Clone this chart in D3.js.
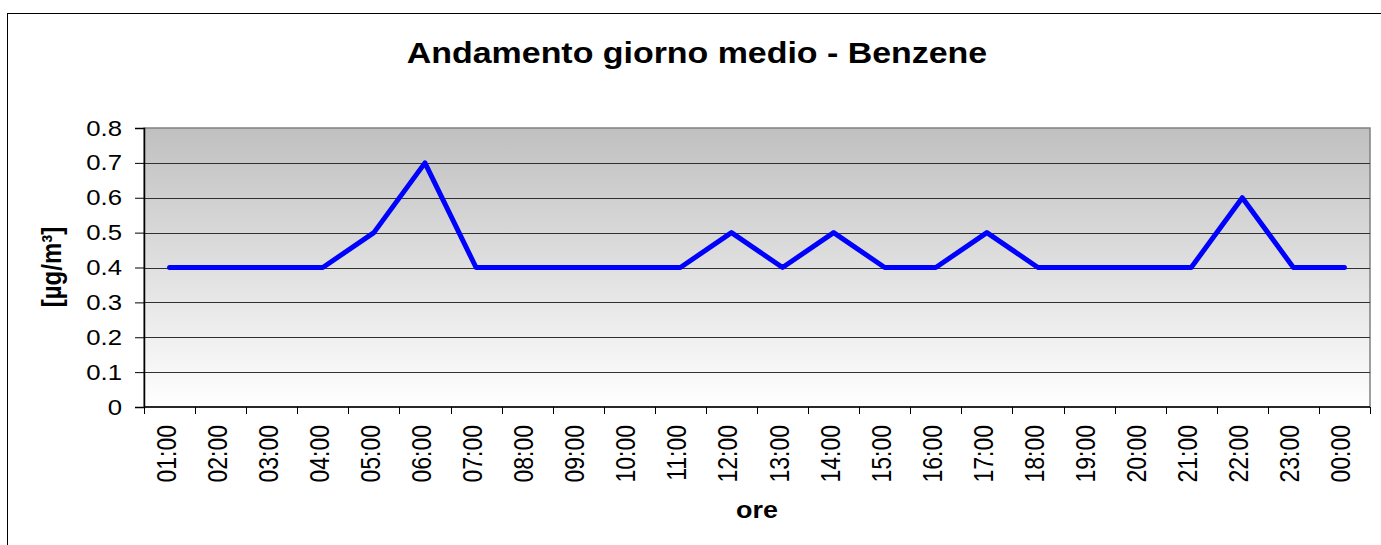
<!DOCTYPE html>
<html><head><meta charset="utf-8">
<script src="https://cdn.jsdelivr.net/npm/d3@7"></script>
<style>body{margin:0;background:#fff;} svg{display:block;font-family:"Liberation Sans",Arial,sans-serif;}</style>
</head><body>
<svg id="c" width="1381" height="545"></svg>
<script>
const hours = ["01:00","02:00","03:00","04:00","05:00","06:00","07:00","08:00","09:00","10:00","11:00","12:00","13:00","14:00","15:00","16:00","17:00","18:00","19:00","20:00","21:00","22:00","23:00","00:00"];
const benzene = [0.4,0.4,0.4,0.4,0.5,0.7,0.4,0.4,0.4,0.4,0.4,0.5,0.4,0.5,0.4,0.4,0.5,0.4,0.4,0.4,0.4,0.6,0.4,0.4];
const yTicks = [0,0.1,0.2,0.3,0.4,0.5,0.6,0.7,0.8];
const yTickLabels = ["0","0.1","0.2","0.3","0.4","0.5","0.6","0.7","0.8"];
const title = "Andamento giorno medio - Benzene";
const xTitle = "ore";
const yTitle = "[µg/m³]";

const SX = 1.17; // horizontal stretch of text seen in the reference
const svg = d3.select("#c");
const L = 144, R = 1370, T = 128, B = 407;
const x = d3.scaleBand().domain(hours).range([L, R]);
const y = d3.scaleLinear().domain([0, 0.8]).range([B, T]);

// outer border
svg.append("rect").attr("x", 7.5).attr("y", 13.5).attr("width", 1400).attr("height", 600)
  .attr("fill", "#fff").attr("stroke", "#000").attr("stroke-width", 1);

// gradient
const defs = svg.append("defs");
const g = defs.append("linearGradient").attr("id", "bg").attr("x1", 0).attr("y1", 0).attr("x2", 0).attr("y2", 1);
g.append("stop").attr("offset", "0%").attr("stop-color", "#c0c0c0");
g.append("stop").attr("offset", "100%").attr("stop-color", "#ffffff");
svg.append("rect").attr("x", L).attr("y", T).attr("width", R - L).attr("height", B - T).attr("fill", "url(#bg)")
  .attr("stroke", "#808080").attr("stroke-width", 1.5);

// gridlines
svg.append("g").selectAll("line").data(yTicks.filter(d => d > 0 && d < 0.8)).join("line")
  .attr("x1", L).attr("x2", R).attr("y1", d => Math.round(y(d)) + 0.5).attr("y2", d => Math.round(y(d)) + 0.5)
  .attr("stroke", "#303030").attr("stroke-width", 1);

// y axis
const yAxis = svg.append("g").attr("transform", `translate(${L},0)`)
  .call(d3.axisLeft(y).tickValues(yTicks).tickFormat((d, i) => yTickLabels[i]).tickSize(9).tickPadding(13));
yAxis.select(".domain").attr("stroke", "#000").attr("stroke-width", 1.5);
yAxis.selectAll(".tick line").attr("stroke", "#000");
yAxis.selectAll("text").attr("font-size", 22).attr("fill", "#000").attr("font-family", "Liberation Sans, Arial, sans-serif")
  .attr("x", -22 / SX).attr("transform", `scale(${SX},1)`);

// x axis with ticks at band boundaries
const xAxisG = svg.append("g");
xAxisG.append("line").attr("x1", L).attr("x2", R).attr("y1", B).attr("y2", B).attr("stroke", "#000").attr("stroke-width", 1.5);
const bounds = hours.map(h => x(h)).concat([x(hours[hours.length - 1]) + x.bandwidth()]);
xAxisG.selectAll("line.tk").data(bounds).join("line").attr("class", "tk")
  .attr("x1", d => Math.round(d) + 0.5).attr("x2", d => Math.round(d) + 0.5).attr("y1", B).attr("y2", B + 7)
  .attr("stroke", "#000");
xAxisG.selectAll("text").data(hours).join("text")
  .attr("transform", d => `translate(${x(d) + x.bandwidth() / 2 + 6},${B + 18}) scale(${SX},1) rotate(-90)`)
  .attr("text-anchor", "end").attr("font-size", 23).attr("fill", "#000").text(d => d);

// line
const line = d3.line().x((d, i) => x(hours[i]) + x.bandwidth() / 2).y(d => y(d));
svg.append("path").datum(benzene).attr("d", line).attr("fill", "none")
  .attr("stroke", "#0000ff").attr("stroke-width", 5).attr("stroke-linejoin", "round").attr("stroke-linecap", "round");

// titles
svg.append("text").attr("transform", `translate(697,63) scale(${SX},1)`).attr("text-anchor", "middle").attr("font-size", 29)
  .attr("font-weight", "bold").text(title);
svg.append("text").attr("transform", `translate(${(L + R) / 2},518) scale(${SX},1)`).attr("text-anchor", "middle").attr("font-size", 23)
  .attr("font-weight", "bold").text(xTitle);
svg.append("text").attr("transform", `translate(61,267) scale(${SX},1) rotate(-90)`).attr("text-anchor", "middle").attr("font-size", 24)
  .attr("font-weight", "bold").text(yTitle);
</script>
</body></html>
